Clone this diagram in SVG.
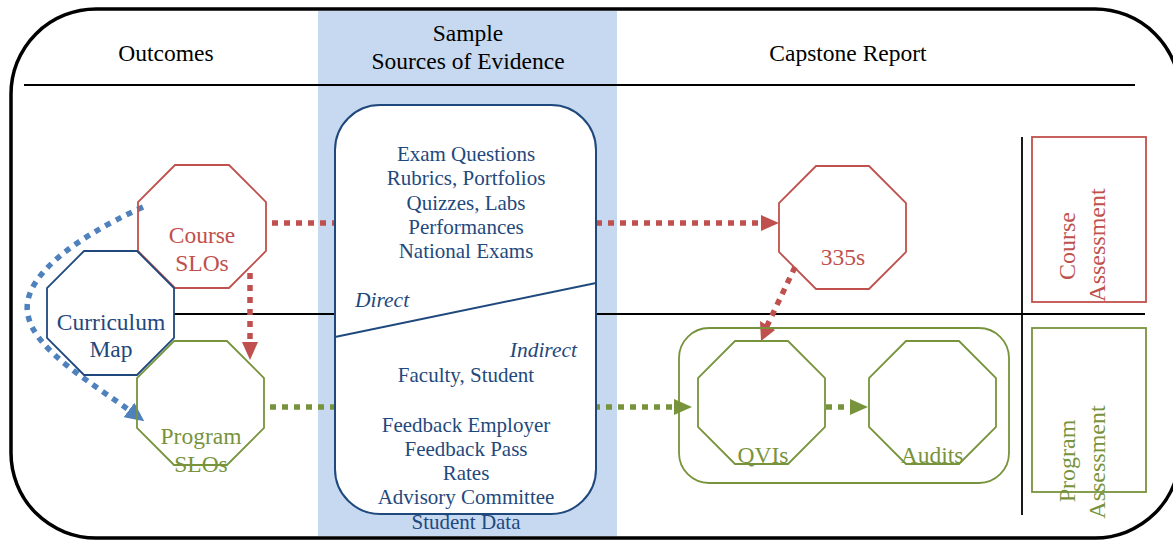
<svg xmlns="http://www.w3.org/2000/svg" width="1173" height="540" viewBox="0 0 1173 540">
<defs>
<style>
text{font-family:"Liberation Serif","Times New Roman",serif;}
.hdr{font-size:23.5px;fill:#000;text-anchor:middle;}
.box{font-size:21px;fill:#1F497D;text-anchor:middle;}
.it{font-size:21.5px;fill:#1F497D;font-style:italic;}
.red{stroke:#C0504D;fill:none;stroke-width:1.8;}
.grn{stroke:#77933C;fill:none;stroke-width:1.8;}
.dblue{stroke:#1F497D;fill:none;stroke-width:1.8;}
.lr{font-size:23.5px;fill:#C0504D;text-anchor:middle;}
.lg{font-size:23.5px;fill:#77933C;text-anchor:middle;}
.lb{font-size:23.5px;fill:#1F497D;text-anchor:middle;}
.rot{font-size:24px;text-anchor:middle;}
.dot{fill:none;stroke-width:5.5;stroke-dasharray:6 6;}
</style>
<marker id="aR" markerUnits="userSpaceOnUse" markerWidth="18" markerHeight="16" refX="0" refY="8" orient="auto"><path d="M0,0 L18,8 L0,16 z" fill="#C0504D"/></marker>
<marker id="aG" markerUnits="userSpaceOnUse" markerWidth="18" markerHeight="16" refX="0" refY="8" orient="auto"><path d="M0,0 L18,8 L0,16 z" fill="#77933C"/></marker>
<marker id="aB" markerUnits="userSpaceOnUse" markerWidth="19" markerHeight="18" refX="0" refY="9" orient="auto"><path d="M0,0 L19,9 L0,18 z" fill="#4F81BD"/></marker>
</defs>
<rect x="0" y="0" width="1173" height="540" fill="#fff"/>
<g id="frame">
<rect x="11" y="9" width="1169" height="529" rx="85" ry="85" fill="#fff" stroke="#000" stroke-width="3.5"/>
<rect x="318" y="11" width="299" height="525" fill="#C6D9F1"/>
<line x1="24" y1="85" x2="1135" y2="85" stroke="#000" stroke-width="1.8"/>
<line x1="174" y1="314" x2="1145" y2="314" stroke="#000" stroke-width="1.8"/>
<line x1="1022" y1="137" x2="1022" y2="515" stroke="#000" stroke-width="1.8"/>
<text class="hdr" x="166" y="61">Outcomes</text>
<text class="hdr" x="468" y="41">Sample</text>
<text class="hdr" x="468" y="69">Sources of Evidence</text>
<text class="hdr" x="848" y="61">Capstone Report</text>
</g>
<g id="connectors">
<line class="dot" x1="272" y1="223" x2="761" y2="223" stroke="#C0504D" marker-end="url(#aR)"/>
<line class="dot" x1="250" y1="273" x2="250" y2="342" stroke="#C0504D" marker-end="url(#aR)"/>
<line class="dot" x1="270" y1="407" x2="674" y2="407" stroke="#77933C" marker-end="url(#aG)"/>
<line class="dot" x1="826" y1="407" x2="850" y2="407" stroke="#77933C" marker-end="url(#aG)"/>
<line class="dot" x1="795" y1="267" x2="767" y2="326" stroke="#C0504D"/>
<polygon points="760,321 775,330 761,341" fill="#C0504D"/>
<path class="dot" d="M143,207 C70,240 20,280 28,315 C34,350 95,385 129,410" stroke="#4F81BD" marker-end="url(#aB)"/>
</g>
<g id="sources">
<rect x="335" y="105" width="261" height="409" rx="45" ry="45" fill="#fff" stroke="#1F497D" stroke-width="2"/>
<line x1="335" y1="337" x2="596" y2="283" stroke="#1F497D" stroke-width="2"/>
<text class="box" x="466" y="161">Exam Questions</text>
<text class="box" x="466" y="185">Rubrics, Portfolios</text>
<text class="box" x="466" y="209.5">Quizzes, Labs</text>
<text class="box" x="466" y="234">Performances</text>
<text class="box" x="466" y="258">National Exams</text>
<text class="it" x="355" y="307">Direct</text>
<text class="it" x="577" y="357" text-anchor="end">Indirect</text>
<text class="box" x="466" y="382">Faculty, Student</text>
<text class="box" x="466" y="432">Feedback Employer</text>
<text class="box" x="466" y="456">Feedback Pass</text>
<text class="box" x="466" y="480">Rates</text>
<text class="box" x="466" y="504">Advisory Committee</text>
<text class="box" x="466" y="529">Student Data</text>
</g>
<g id="course-slos">
<polygon class="red" points="175,165 229,165 266,202 266,251 229,288 175,288 138,251 138,202"/>
<text class="lr" x="202" y="243">Course</text>
<text class="lr" x="202" y="271">SLOs</text>
</g>
<g id="curriculum-map">
<polygon class="dblue" points="84,251 137,251 174,288 174,338 137,375 84,375 47,338 47,288"/>
<text class="lb" x="111" y="330">Curriculum</text>
<text class="lb" x="111" y="357">Map</text>
</g>
<g id="program-slos">
<polygon class="grn" points="174,341 227,341 264,378 264,428 227,465 174,465 137,428 137,378"/>
<text class="lg" x="201" y="444">Program</text>
<text class="lg" x="201" y="472">SLOs</text>
</g>
<g id="n335s">
<polygon class="red" points="816,166 869,166 906,203 906,252 869,289 816,289 779,252 779,203"/>
<text class="lr" x="843" y="265">335s</text>
</g>
<g id="program-group">
<rect class="grn" x="679" y="328" width="330" height="155" rx="30" ry="30"/>
</g>
<g id="qvis">
<polygon class="grn" points="735,341 788,341 825,378 825,427 788,464 735,464 698,427 698,378"/>
<text class="lg" x="763" y="463">QVIs</text>
</g>
<g id="audits">
<polygon class="grn" points="906,341 959,341 996,378 996,427 959,464 906,464 869,427 869,378"/>
<text class="lg" x="932" y="463">Audits</text>
</g>
<g id="course-assessment">
<rect class="red" x="1032" y="137" width="114" height="165"/>
<text class="rot" fill="#C0504D" transform="translate(1075,246) rotate(-90)">Course</text>
<text class="rot" fill="#C0504D" transform="translate(1105,245) rotate(-90)">Assessment</text>
</g>
<g id="program-assessment">
<rect class="grn" x="1032" y="328" width="114" height="164"/>
<text class="rot" fill="#77933C" transform="translate(1075,461) rotate(-90)">Program</text>
<text class="rot" fill="#77933C" transform="translate(1105,462) rotate(-90)">Assessment</text>
</g>
</svg>
